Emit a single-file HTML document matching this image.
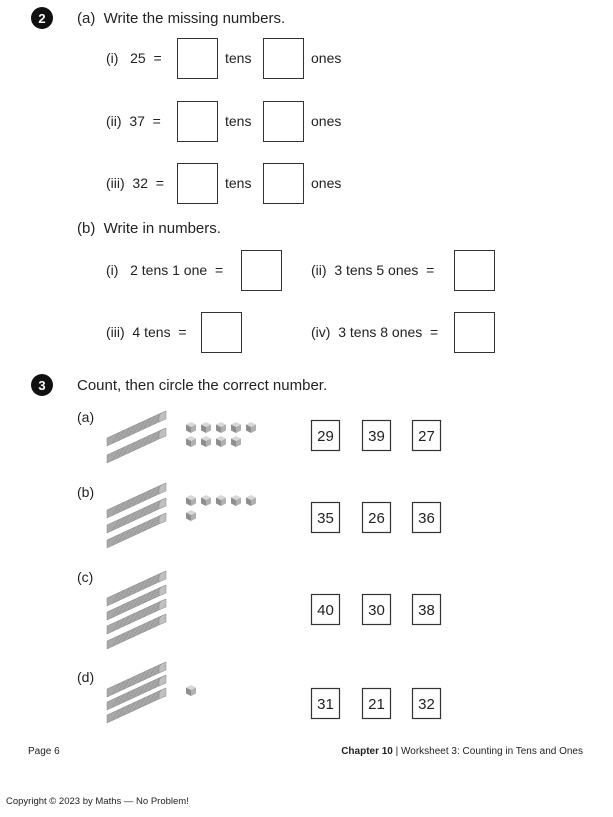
<!DOCTYPE html>
<html><head><meta charset="utf-8"><style>
html,body{margin:0;padding:0;background:#fff;}
svg{display:block}
text{font-family:"Liberation Sans",sans-serif;fill:#222;white-space:pre}
</style></head><body>
<svg width="613" height="817" viewBox="0 0 613 817" xmlns="http://www.w3.org/2000/svg" xml:space="preserve">
<defs>
<g id="rod">
<polygon points="0,0 52,-24 52,-32 0,-8" fill="#a8a8a8" stroke="#8a8a8a" stroke-width="0.5"/>
<polygon points="0,-8 52,-32 59,-35 7,-11" fill="#dcdcdc" stroke="#999" stroke-width="0.5"/>
<polygon points="52,-24 59,-27 59,-35 52,-32" fill="#c0c0c0" stroke="#888" stroke-width="0.5"/>
<g stroke="#8f8f8f" stroke-width="0.6">
<line x1="5.2" y1="-2.4" x2="12.2" y2="-13.4"/><line x1="10.4" y1="-4.8" x2="17.4" y2="-15.8"/>
<line x1="15.6" y1="-7.2" x2="22.6" y2="-18.2"/><line x1="20.8" y1="-9.6" x2="27.8" y2="-20.6"/>
<line x1="26" y1="-12" x2="33" y2="-23"/><line x1="31.2" y1="-14.4" x2="38.2" y2="-25.4"/>
<line x1="36.4" y1="-16.8" x2="43.4" y2="-27.8"/><line x1="41.6" y1="-19.2" x2="48.6" y2="-30.2"/>
<line x1="46.8" y1="-21.6" x2="53.8" y2="-32.6"/>
</g>
</g>
<g id="cube">
<polygon points="0,2.5 5,0 10,2.5 5,5" fill="#d8d8d8"/>
<polygon points="0,2.5 5,5 5,11 0,8.5" fill="#8e8e8e"/>
<polygon points="5,5 10,2.5 10,8.5 5,11" fill="#b0b0b0"/>
</g>
</defs>

<!-- Q2 -->
<circle cx="42" cy="18" r="11" fill="#111"/>
<text x="42" y="23" font-size="13" font-weight="bold" text-anchor="middle" style="fill:#fff">2</text>
<text x="77" y="23" font-size="15">(a)  Write the missing numbers.</text>

<g font-size="14">
<text x="106" y="63">(i)   25  =</text>
<text x="106" y="126">(ii)  37  =</text>
<text x="106" y="188">(iii)  32  =</text>
<text x="225" y="63">tens</text><text x="311" y="63">ones</text>
<text x="225" y="126">tens</text><text x="311" y="126">ones</text>
<text x="225" y="188">tens</text><text x="311" y="188">ones</text>
</g>
<g fill="none" stroke="#333" stroke-width="1">
<rect x="177.5" y="38.5" width="40" height="40"/><rect x="263.5" y="38.5" width="40" height="40"/>
<rect x="177.5" y="101.5" width="40" height="40"/><rect x="263.5" y="101.5" width="40" height="40"/>
<rect x="177.5" y="163.5" width="40" height="40"/><rect x="263.5" y="163.5" width="40" height="40"/>
<rect x="241.5" y="250.5" width="40" height="40"/><rect x="454.5" y="250.5" width="40" height="40"/>
<rect x="201.5" y="312.5" width="40" height="40"/><rect x="454.5" y="312.5" width="40" height="40"/>
</g>
<text x="77" y="233" font-size="15">(b)  Write in numbers.</text>
<g font-size="14">
<text x="106" y="275">(i)   2 tens 1 one  =</text>
<text x="311" y="275">(ii)  3 tens 5 ones  =</text>
<text x="106" y="337">(iii)  4 tens  =</text>
<text x="311" y="337">(iv)  3 tens 8 ones  =</text>
</g>

<!-- Q3 -->
<circle cx="42" cy="385" r="11" fill="#111"/>
<text x="42" y="390" font-size="13" font-weight="bold" text-anchor="middle" style="fill:#fff">3</text>
<text x="77" y="390" font-size="15">Count, then circle the correct number.</text>

<g font-size="14">
<text x="77" y="422">(a)</text><text x="77" y="497">(b)</text>
<text x="77" y="582">(c)</text><text x="77" y="682">(d)</text>
</g>

<use href="#rod" x="107" y="446"/><use href="#rod" x="107" y="463"/>
<use href="#rod" x="107" y="518"/><use href="#rod" x="107" y="533"/><use href="#rod" x="107" y="548"/>
<use href="#rod" x="107" y="606"/><use href="#rod" x="107" y="620"/><use href="#rod" x="107" y="634"/><use href="#rod" x="107" y="649"/>
<use href="#rod" x="107" y="697"/><use href="#rod" x="107" y="710"/><use href="#rod" x="107" y="723"/>

<use href="#cube" x="186" y="422"/><use href="#cube" x="201" y="422"/><use href="#cube" x="216" y="422"/><use href="#cube" x="231" y="422"/><use href="#cube" x="246" y="422"/>
<use href="#cube" x="186" y="436"/><use href="#cube" x="201" y="436"/><use href="#cube" x="216" y="436"/><use href="#cube" x="231" y="436"/>
<use href="#cube" x="186" y="495"/><use href="#cube" x="201" y="495"/><use href="#cube" x="216" y="495"/><use href="#cube" x="231" y="495"/><use href="#cube" x="246" y="495"/>
<use href="#cube" x="186" y="510"/>
<use href="#cube" x="186" y="685"/>

<g fill="none" stroke="#333" stroke-width="1.2">
<rect x="311.5" y="420.5" width="28" height="30"/><rect x="362.5" y="420.5" width="28" height="30"/><rect x="412.5" y="420.5" width="28" height="30"/>
<rect x="311.5" y="502.5" width="28" height="30"/><rect x="362.5" y="502.5" width="28" height="30"/><rect x="412.5" y="502.5" width="28" height="30"/>
<rect x="311.5" y="594.5" width="28" height="30"/><rect x="362.5" y="594.5" width="28" height="30"/><rect x="412.5" y="594.5" width="28" height="30"/>
<rect x="311.5" y="688.5" width="28" height="30"/><rect x="362.5" y="688.5" width="28" height="30"/><rect x="412.5" y="688.5" width="28" height="30"/>
</g>
<g font-size="15" text-anchor="middle">
<text x="325.5" y="441">29</text><text x="376.5" y="441">39</text><text x="426.5" y="441">27</text>
<text x="325.5" y="523">35</text><text x="376.5" y="523">26</text><text x="426.5" y="523">36</text>
<text x="325.5" y="615">40</text><text x="376.5" y="615">30</text><text x="426.5" y="615">38</text>
<text x="325.5" y="709">31</text><text x="376.5" y="709">21</text><text x="426.5" y="709">32</text>
</g>

<text x="28" y="754" font-size="10">Page 6</text>
<text x="583" y="754" font-size="10" text-anchor="end"><tspan font-weight="bold">Chapter 10</tspan> | Worksheet 3: Counting in Tens and Ones</text>
<text x="6" y="804" font-size="9.5">Copyright © 2023 by Maths — No Problem!</text>
</svg>
</body></html>
